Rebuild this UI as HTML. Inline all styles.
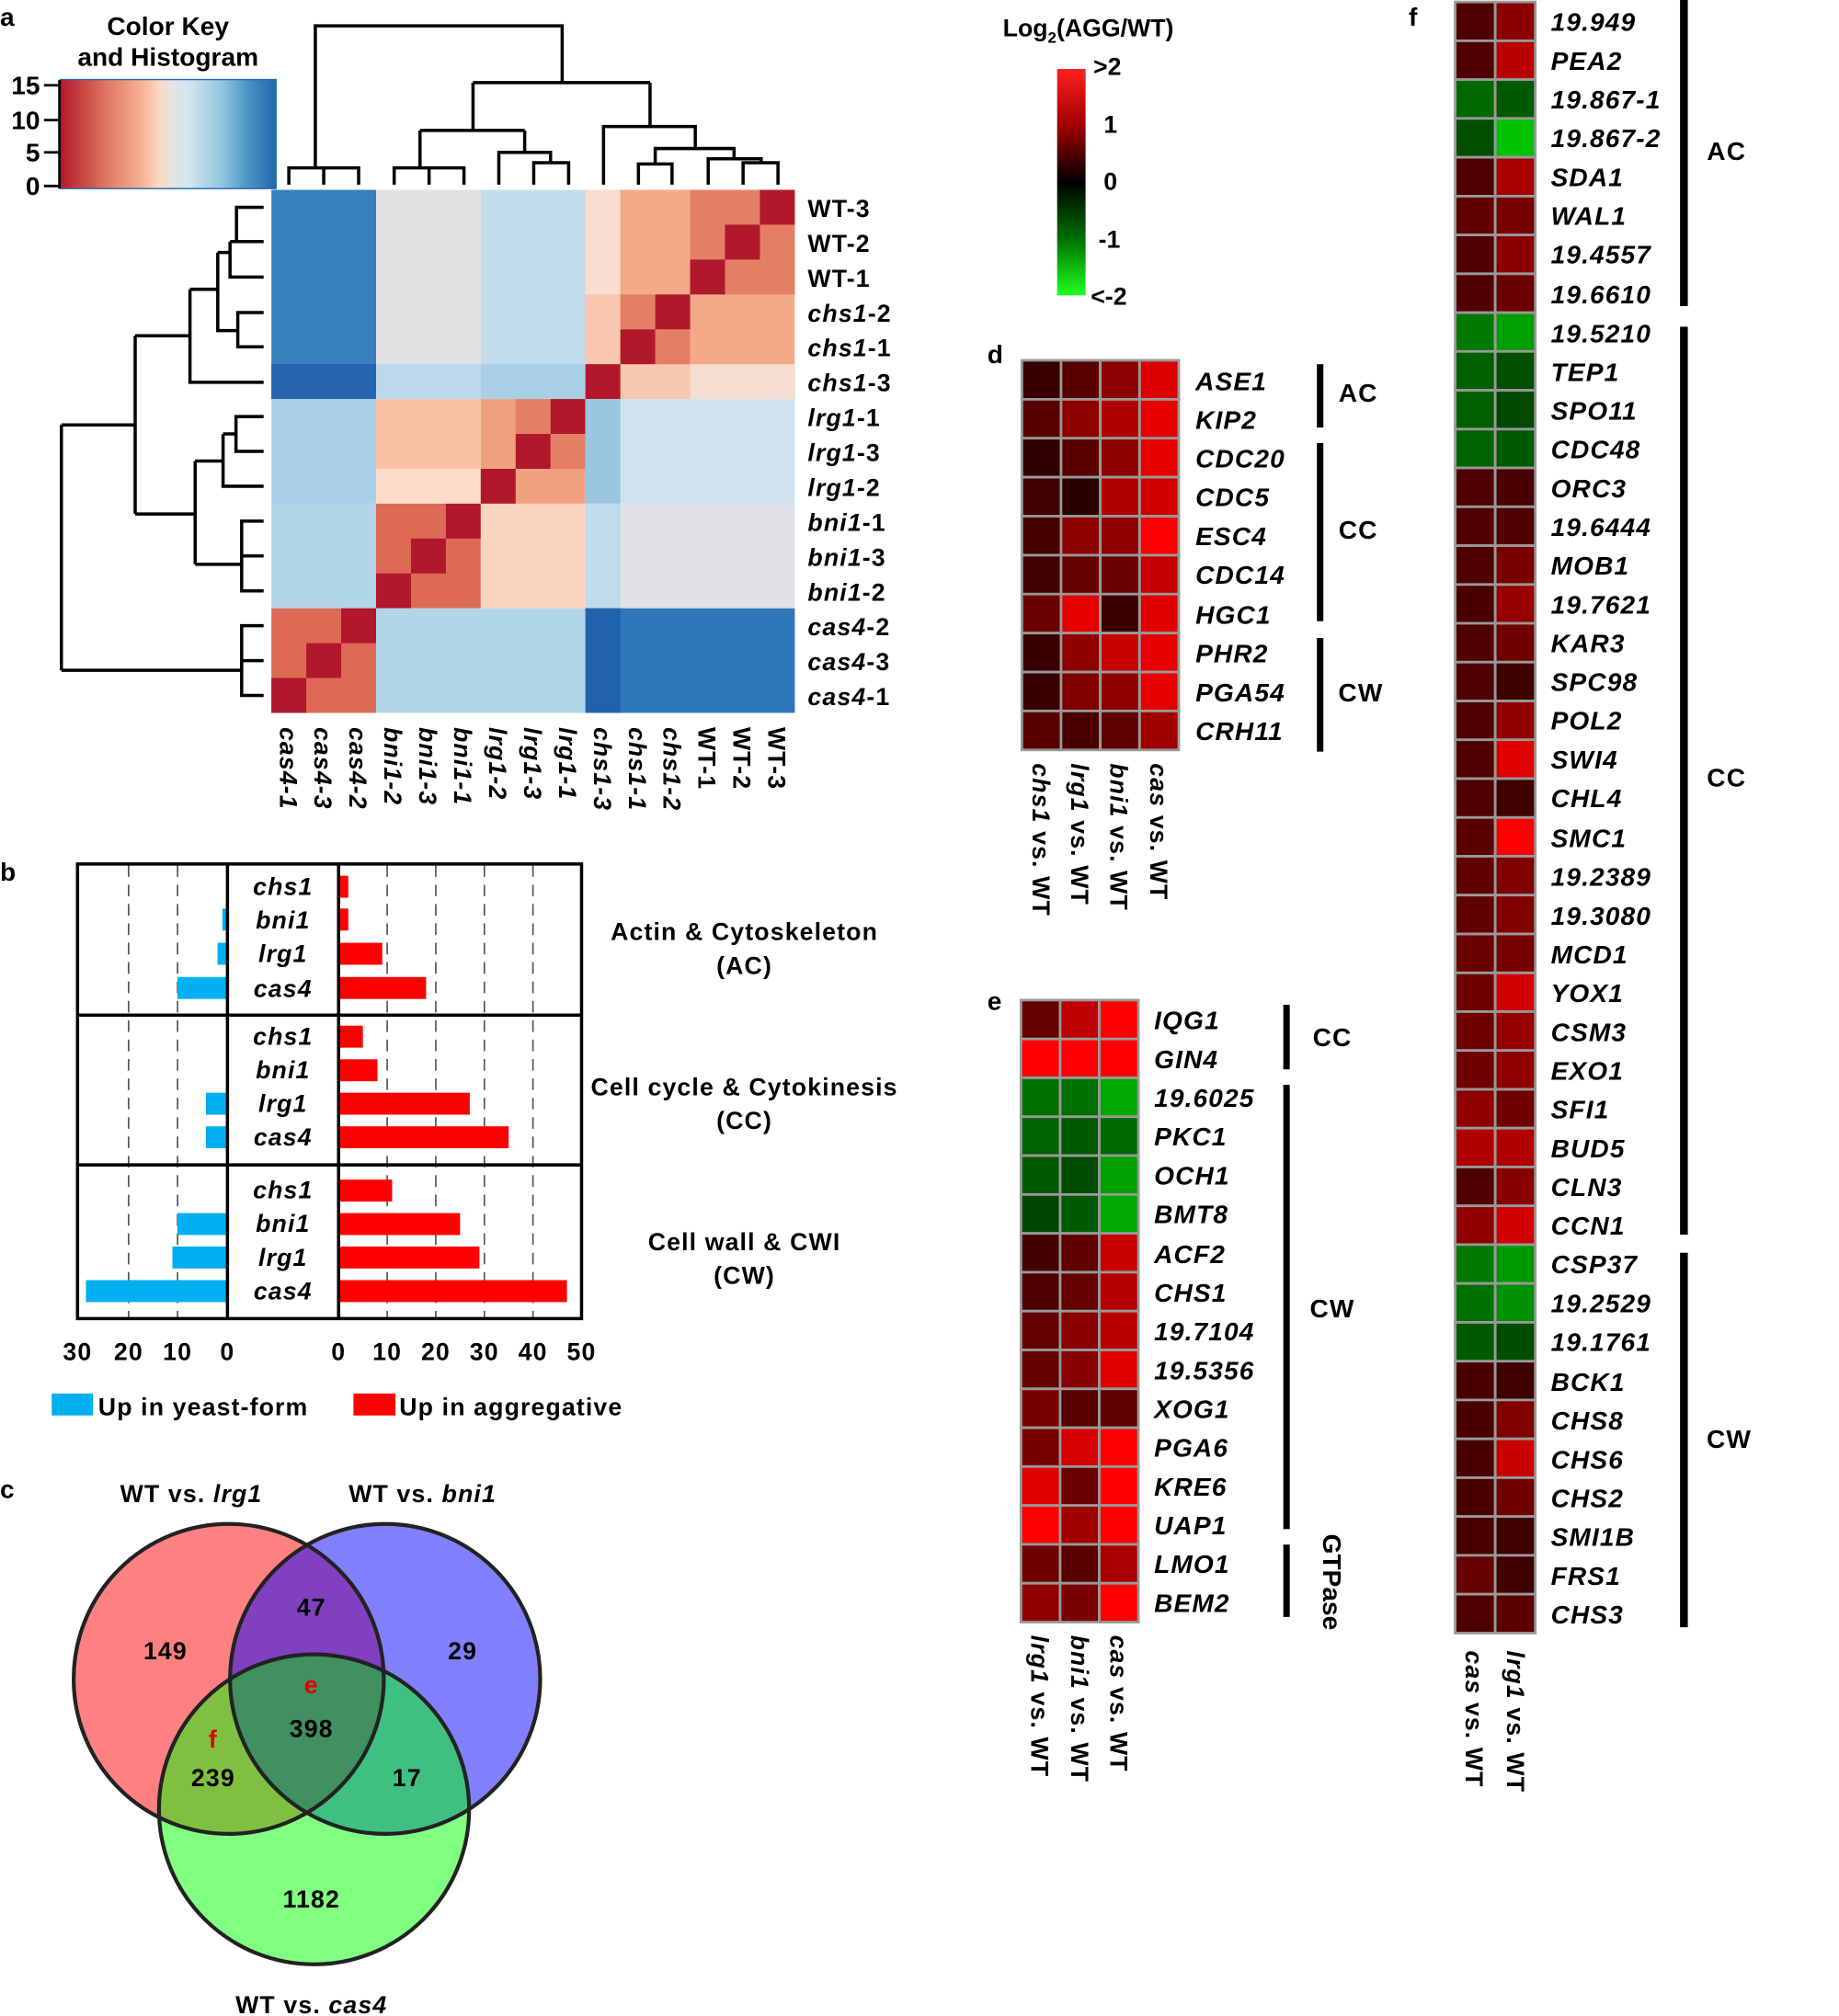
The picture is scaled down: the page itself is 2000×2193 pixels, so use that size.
<!DOCTYPE html>
<html><head><meta charset="utf-8"><style>
html,body{margin:0;padding:0;background:#fff}
svg{display:block}
text{font-family:"Liberation Sans",Arial,sans-serif;font-weight:bold;fill:#000}
.it{font-style:italic}
.w{letter-spacing:0.8px}
</style></head><body>
<svg width="2000" height="2193" viewBox="0 0 1423 1561" preserveAspectRatio="none" xmlns="http://www.w3.org/2000/svg">
<defs>
<linearGradient id="ck" x1="0" x2="1" y1="0" y2="0">
<stop offset="0" stop-color="#b2182b"/><stop offset="0.22" stop-color="#e07a62"/><stop offset="0.38" stop-color="#f6b394"/><stop offset="0.46" stop-color="#fcd9c4"/><stop offset="0.52" stop-color="#e6e3e2"/><stop offset="0.6" stop-color="#d1e5f0"/><stop offset="0.75" stop-color="#92c5de"/><stop offset="0.87" stop-color="#4a93c4"/><stop offset="1" stop-color="#2166ac"/>
</linearGradient>
<linearGradient id="lg" x1="0" x2="0" y1="0" y2="1">
<stop offset="0" stop-color="#ff2020"/><stop offset="0.25" stop-color="#a00000"/><stop offset="0.5" stop-color="#000"/><stop offset="0.75" stop-color="#007000"/><stop offset="1" stop-color="#20ff20"/>
</linearGradient>
<clipPath id="cR"><circle cx="177" cy="1300" r="120"/></clipPath>
<clipPath id="cB"><circle cx="298" cy="1300" r="120"/></clipPath>
</defs>

<!-- panel a heatmap blocks -->
<g>
<rect x="210" y="147" width="81" height="162" fill="#3580bd"/><rect x="210" y="282" width="81" height="27" fill="#2566ae"/>
<rect x="291" y="147" width="81" height="162" fill="#e4e1e2"/><rect x="291" y="282" width="81" height="27" fill="#bcd8ea"/>
<rect x="372" y="147" width="81" height="162" fill="#c3dceb"/><rect x="372" y="282" width="81" height="27" fill="#a9cfe4"/>
<rect x="453" y="147" width="162" height="162" fill="#f3aa88"/>
<rect x="453" y="147" width="27" height="81" fill="#f8ddd0"/><rect x="453" y="228" width="27" height="54" fill="#f9c8ae"/>
<rect x="480" y="282" width="54" height="27" fill="#f8c8ae"/><rect x="534" y="282" width="81" height="27" fill="#f5ddd0"/>
<rect x="534" y="147" width="81" height="81" fill="#e47f66"/><rect x="480" y="228" width="27" height="27" fill="#e47f66"/><rect x="507" y="255" width="27" height="27" fill="#e47f66"/>
<g fill="#b2182b"><rect x="588" y="147" width="27" height="27"/><rect x="561" y="174" width="27" height="27"/><rect x="534" y="201" width="27" height="27"/><rect x="507" y="228" width="27" height="27"/><rect x="480" y="255" width="27" height="27"/><rect x="453" y="282" width="27" height="27"/></g>
<rect x="210" y="309" width="81" height="81" fill="#a9d0e6"/>
<rect x="291" y="309" width="81" height="81" fill="#f8c3a5"/><rect x="291" y="363" width="81" height="27" fill="#fcdcc9"/>
<rect x="372" y="309" width="81" height="81" fill="#f0a07f"/><rect x="399" y="309" width="27" height="27" fill="#e47f66"/><rect x="426" y="336" width="27" height="27" fill="#e47f66"/>
<g fill="#b2182b"><rect x="426" y="309" width="27" height="27"/><rect x="399" y="336" width="27" height="27"/><rect x="372" y="363" width="27" height="27"/></g>
<rect x="453" y="309" width="162" height="81" fill="#cfe2ee"/><rect x="453" y="309" width="27" height="81" fill="#9ac6df"/>
<rect x="210" y="390" width="81" height="81" fill="#b3d5e8"/>
<rect x="291" y="390" width="81" height="81" fill="#dc6a55"/>
<g fill="#b2182b"><rect x="345" y="390" width="27" height="27"/><rect x="318" y="417" width="27" height="27"/><rect x="291" y="444" width="27" height="27"/></g>
<rect x="372" y="390" width="81" height="81" fill="#f9d5c0"/>
<rect x="453" y="390" width="162" height="81" fill="#e2e2e6"/><rect x="453" y="390" width="27" height="81" fill="#c0dbea"/>
<rect x="210" y="471" width="81" height="81" fill="#dc6a55"/>
<g fill="#b2182b"><rect x="264" y="471" width="27" height="27"/><rect x="237" y="498" width="27" height="27"/><rect x="210" y="525" width="27" height="27"/></g>
<rect x="291" y="471" width="162" height="81" fill="#b2d5e8"/>
<rect x="453" y="471" width="162" height="81" fill="#2f78b8"/><rect x="453" y="471" width="27" height="81" fill="#2262aa"/>
</g>

<!-- panel labels -->
<text x="0" y="20" font-size="20">a</text>
<text x="0" y="682" font-size="20">b</text>
<text x="0" y="1160" font-size="20">c</text>
<text x="764" y="281" font-size="20">d</text>
<text x="764" y="782" font-size="20">e</text>
<text x="1090" y="20" font-size="20">f</text>

<!-- color key -->
<text x="130" y="27" font-size="20" text-anchor="middle">Color Key</text>
<text x="130" y="51" font-size="20" text-anchor="middle">and Histogram</text>
<rect x="46.6" y="61.6" width="167" height="84.4" fill="url(#ck)" stroke="#2166ac" stroke-width="1"/>
<g stroke="#000" stroke-width="2"><line x1="46" y1="62" x2="46" y2="146"/><line x1="34" y1="66" x2="46" y2="66"/><line x1="34" y1="93" x2="46" y2="93"/><line x1="34" y1="118" x2="46" y2="118"/><line x1="34" y1="144" x2="46" y2="144"/></g>
<g font-size="20" text-anchor="end"><text x="31" y="73">15</text><text x="31" y="100">10</text><text x="31" y="125">5</text><text x="31" y="151">0</text></g>

<!-- dendrograms -->
<g stroke="#000" stroke-width="2.5" fill="none">
<path d="M223.5,143V130H277.5V143M250.5,130V143M244,130V20H435V64M366,64H503M366,64V101M325,101H406M325,101V130M406,101V118M305,143V130H359V143M332,130V143M386,143V118H426V126M413,143V126H440V143M503,64V98H467V143M467,98H538V115H507V127H494V143M507,127H520V143M538,115H568V123H548V143M568,123H589V126H575V143M589,126H602V143"/>
<path d="M47.5,329V519M47.5,329H104.6V260M104.6,329V398M104.6,260H147V224M147,260V296H204M147,224H168.5V195.5M168.5,224V256H184V242H204M184,256V268.5H204M168.5,195.5H178V187M178,195.5V214.5H204M178,187H183V160.5H204M183,187H204M104.6,398H151V357M151,398V437M151,357H172.6V336M172.6,357V376.5H204M172.6,336H182.6V322.5H204M182.6,336V349.5H204M151,437H187V403.5H204M187,437V457.5H204M187,430.5H204M47.5,519H187V484.5H204M187,519V538.5H204M187,511.5H204"/>
</g>

<!-- panel a labels -->
<g font-size="19" class="w">
<text x="625" y="168">WT-3</text><text x="625" y="195">WT-2</text><text x="625" y="222">WT-1</text>
<text x="625" y="249" class="it">chs1<tspan font-style="normal">-2</tspan></text>
<text x="625" y="276" class="it">chs1<tspan font-style="normal">-1</tspan></text>
<text x="625" y="303" class="it">chs1<tspan font-style="normal">-3</tspan></text>
<text x="625" y="330" class="it">lrg1<tspan font-style="normal">-1</tspan></text>
<text x="625" y="357" class="it">lrg1<tspan font-style="normal">-3</tspan></text>
<text x="625" y="384" class="it">lrg1<tspan font-style="normal">-2</tspan></text>
<text x="625" y="411" class="it">bni1<tspan font-style="normal">-1</tspan></text>
<text x="625" y="438" class="it">bni1<tspan font-style="normal">-3</tspan></text>
<text x="625" y="465" class="it">bni1<tspan font-style="normal">-2</tspan></text>
<text x="625" y="492" class="it">cas4<tspan font-style="normal">-2</tspan></text>
<text x="625" y="519" class="it">cas4<tspan font-style="normal">-3</tspan></text>
<text x="625" y="546" class="it">cas4<tspan font-style="normal">-1</tspan></text>
</g>
<g font-size="19" class="it w">
<text transform="translate(216.5,563) rotate(90)">cas4-1</text>
<text transform="translate(243.5,563) rotate(90)">cas4-3</text>
<text transform="translate(270.5,563) rotate(90)">cas4-2</text>
<text transform="translate(297.5,563) rotate(90)">bni1-2</text>
<text transform="translate(324.5,563) rotate(90)">bni1-3</text>
<text transform="translate(351.5,563) rotate(90)">bni1-1</text>
<text transform="translate(378.5,563) rotate(90)">lrg1-2</text>
<text transform="translate(405.5,563) rotate(90)">lrg1-3</text>
<text transform="translate(432.5,563) rotate(90)">lrg1-1</text>
<text transform="translate(459.5,563) rotate(90)">chs1-3</text>
<text transform="translate(486.5,563) rotate(90)">chs1-1</text>
<text transform="translate(513.5,563) rotate(90)">chs1-2</text>
<text transform="translate(540.5,563) rotate(90)" font-style="normal">WT-1</text>
<text transform="translate(567.5,563) rotate(90)" font-style="normal">WT-2</text>
<text transform="translate(594.5,563) rotate(90)" font-style="normal">WT-3</text>
</g>

<!-- panel b -->
<g stroke="#555" stroke-width="1.2" stroke-dasharray="9,6">
<line x1="99.5" y1="670" x2="99.5" y2="1020"/><line x1="137.4" y1="670" x2="137.4" y2="1020"/>
<line x1="299.6" y1="670" x2="299.6" y2="1020"/><line x1="337.2" y1="670" x2="337.2" y2="1020"/><line x1="374.8" y1="670" x2="374.8" y2="1020"/><line x1="412.4" y1="670" x2="412.4" y2="1020"/>
</g>
<g fill="#ff0000">
<rect x="262" y="678.1" width="7.5" height="17"/><rect x="262" y="703.5" width="7.5" height="17"/><rect x="262" y="730" width="33.8" height="17"/><rect x="262" y="756.5" width="67.7" height="17"/>
<rect x="262" y="794.2" width="18.8" height="17"/><rect x="262" y="820.2" width="30.1" height="17"/><rect x="262" y="846.1" width="101.5" height="17"/><rect x="262" y="872.1" width="131.6" height="17"/>
<rect x="262" y="913.4" width="41.4" height="17"/><rect x="262" y="939.3" width="94" height="17"/><rect x="262" y="965.2" width="109" height="17"/><rect x="262" y="991.2" width="176.7" height="17"/>
</g>
<g fill="#00b0f0">
<rect x="172.1" y="703.5" width="3.9" height="17"/><rect x="168.3" y="730" width="7.7" height="17"/><rect x="137.3" y="756.5" width="38.7" height="17"/>
<rect x="159.4" y="846.1" width="16.6" height="17"/><rect x="159.4" y="872.1" width="16.6" height="17"/>
<rect x="137.3" y="939.3" width="38.7" height="17"/><rect x="133.4" y="965.2" width="42.6" height="17"/><rect x="66.5" y="991.2" width="109.5" height="17"/>
</g>
<g stroke="#000" stroke-width="2.5" fill="none">
<rect x="60" y="669" width="390" height="352"/>
<line x1="60" y1="786" x2="450" y2="786"/><line x1="60" y1="902" x2="450" y2="902"/>
<line x1="176" y1="669" x2="176" y2="1021"/><line x1="262" y1="669" x2="262" y2="1021"/>
</g>
<g font-size="19" class="it w" text-anchor="middle">
<text x="219" y="693">chs1</text><text x="219" y="719">bni1</text><text x="219" y="745">lrg1</text><text x="219" y="772">cas4</text>
<text x="219" y="809">chs1</text><text x="219" y="835">bni1</text><text x="219" y="861">lrg1</text><text x="219" y="887">cas4</text>
<text x="219" y="928">chs1</text><text x="219" y="954">bni1</text><text x="219" y="980">lrg1</text><text x="219" y="1006">cas4</text>
</g>
<g font-size="19" text-anchor="middle" class="w">
<text x="60" y="1053">30</text><text x="99.5" y="1053">20</text><text x="137.4" y="1053">10</text><text x="176" y="1053">0</text>
<text x="262" y="1053">0</text><text x="299.6" y="1053">10</text><text x="337.2" y="1053">20</text><text x="374.8" y="1053">30</text><text x="412.4" y="1053">40</text><text x="450" y="1053">50</text>
<text x="576" y="728">Actin &amp; Cytoskeleton</text><text x="576" y="754">(AC)</text>
<text x="576" y="848">Cell cycle &amp; Cytokinesis</text><text x="576" y="874">(CC)</text>
<text x="576" y="968">Cell wall &amp; CWI</text><text x="576" y="994">(CW)</text>
</g>
<rect x="40" y="1079" width="32" height="17" fill="#00b0f0"/>
<text x="76" y="1096" font-size="19" class="w">Up in yeast-form</text>
<rect x="273.5" y="1079" width="32.5" height="17" fill="#ff0000"/>
<text x="309" y="1096" font-size="19" class="w">Up in aggregative</text>

<!-- Venn -->
<circle cx="177" cy="1300" r="120" fill="#ff8080"/>
<circle cx="298" cy="1300" r="120" fill="#8080ff"/>
<circle cx="243" cy="1401" r="120" fill="#80ff80"/>
<g clip-path="url(#cR)"><circle cx="298" cy="1300" r="120" fill="#8040c0"/><circle cx="243" cy="1401" r="120" fill="#80c040"/></g>
<g clip-path="url(#cB)"><circle cx="243" cy="1401" r="120" fill="#40c080"/><g clip-path="url(#cR)"><circle cx="243" cy="1401" r="120" fill="#409060"/></g></g>
<g fill="none" stroke="#222" stroke-width="3"><circle cx="177" cy="1300" r="120"/><circle cx="298" cy="1300" r="120"/><circle cx="243" cy="1401" r="120"/></g>
<g font-size="19" text-anchor="middle" class="w">
<text x="148" y="1163">WT vs. <tspan class="it">lrg1</tspan></text>
<text x="327" y="1163">WT vs. <tspan class="it">bni1</tspan></text>
<text x="241" y="1559">WT vs. <tspan class="it">cas4</tspan></text>
<text x="128" y="1285">149</text><text x="241" y="1251">47</text><text x="358" y="1285">29</text>
<text x="241" y="1311" style="fill:#e00000">e</text><text x="241" y="1345">398</text>
<text x="165" y="1353" style="fill:#e00000">f</text><text x="165" y="1383">239</text><text x="315" y="1383">17</text>
<text x="241" y="1477">1182</text>
</g>

<!-- log scale -->
<text x="776" y="28" font-size="19">Log<tspan font-size="12" dy="5">2</tspan><tspan dy="-5">(AGG/WT)</tspan></text>
<rect x="818" y="53.4" width="22" height="175.3" fill="url(#lg)"/>
<g font-size="19"><text x="846" y="58">&gt;2</text><text x="854" y="103">1</text><text x="854" y="147">0</text><text x="850" y="192">-1</text><text x="844" y="236">&lt;-2</text></g>

<!-- panel d heatmap -->
<g stroke="#999" stroke-width="2">
<rect x="790.7" y="279" width="30.35" height="30.2" fill="#3a0000"/><rect x="821" y="279" width="30.35" height="30.2" fill="#5a0000"/><rect x="851.4" y="279" width="30.35" height="30.2" fill="#8b0000"/><rect x="881.8" y="279" width="30.35" height="30.2" fill="#dd0000"/>
<rect x="790.7" y="309.2" width="30.35" height="30.2" fill="#5a0000"/><rect x="821" y="309.2" width="30.35" height="30.2" fill="#8f0000"/><rect x="851.4" y="309.2" width="30.35" height="30.2" fill="#b00000"/><rect x="881.8" y="309.2" width="30.35" height="30.2" fill="#e80000"/>
<rect x="790.7" y="339.3" width="30.35" height="30.2" fill="#330000"/><rect x="821" y="339.3" width="30.35" height="30.2" fill="#5a0000"/><rect x="851.4" y="339.3" width="30.35" height="30.2" fill="#8c0000"/><rect x="881.8" y="339.3" width="30.35" height="30.2" fill="#e80000"/>
<rect x="790.7" y="369.5" width="30.35" height="30.2" fill="#400000"/><rect x="821" y="369.5" width="30.35" height="30.2" fill="#2a0000"/><rect x="851.4" y="369.5" width="30.35" height="30.2" fill="#b00000"/><rect x="881.8" y="369.5" width="30.35" height="30.2" fill="#d00000"/>
<rect x="790.7" y="399.7" width="30.35" height="30.2" fill="#450000"/><rect x="821" y="399.7" width="30.35" height="30.2" fill="#8f0000"/><rect x="851.4" y="399.7" width="30.35" height="30.2" fill="#900000"/><rect x="881.8" y="399.7" width="30.35" height="30.2" fill="#ff0000"/>
<rect x="790.7" y="429.9" width="30.35" height="30.2" fill="#400000"/><rect x="821" y="429.9" width="30.35" height="30.2" fill="#650000"/><rect x="851.4" y="429.9" width="30.35" height="30.2" fill="#6a0000"/><rect x="881.8" y="429.9" width="30.35" height="30.2" fill="#c40000"/>
<rect x="790.7" y="460" width="30.35" height="30.2" fill="#6a0000"/><rect x="821" y="460" width="30.35" height="30.2" fill="#e50000"/><rect x="851.4" y="460" width="30.35" height="30.2" fill="#3a0000"/><rect x="881.8" y="460" width="30.35" height="30.2" fill="#e00000"/>
<rect x="790.7" y="490.2" width="30.35" height="30.2" fill="#3a0000"/><rect x="821" y="490.2" width="30.35" height="30.2" fill="#8f0000"/><rect x="851.4" y="490.2" width="30.35" height="30.2" fill="#c80000"/><rect x="881.8" y="490.2" width="30.35" height="30.2" fill="#e60000"/>
<rect x="790.7" y="520.4" width="30.35" height="30.2" fill="#3a0000"/><rect x="821" y="520.4" width="30.35" height="30.2" fill="#800000"/><rect x="851.4" y="520.4" width="30.35" height="30.2" fill="#900000"/><rect x="881.8" y="520.4" width="30.35" height="30.2" fill="#e60000"/>
<rect x="790.7" y="550.5" width="30.35" height="30.2" fill="#5a0000"/><rect x="821" y="550.5" width="30.35" height="30.2" fill="#4a0000"/><rect x="851.4" y="550.5" width="30.35" height="30.2" fill="#600000"/><rect x="881.8" y="550.5" width="30.35" height="30.2" fill="#a00000"/>
</g>
<g font-size="20" class="it w">
<text x="925" y="302">ASE1</text><text x="925" y="332">KIP2</text><text x="925" y="362">CDC20</text><text x="925" y="392">CDC5</text><text x="925" y="422">ESC4</text><text x="925" y="452">CDC14</text><text x="925" y="483">HGC1</text><text x="925" y="513">PHR2</text><text x="925" y="543">PGA54</text><text x="925" y="573">CRH11</text>
</g>
<g fill="#000"><rect x="1019" y="282" width="5" height="49"/><rect x="1019" y="343" width="5" height="138"/><rect x="1019" y="494" width="5" height="88"/></g>
<g font-size="20" text-anchor="middle" class="w"><text x="1051" y="311">AC</text><text x="1051" y="417">CC</text><text x="1053" y="543">CW</text></g>
<g font-size="19" class="it w">
<text transform="translate(799,591) rotate(90)">chs1 <tspan font-style="normal">vs. WT</tspan></text>
<text transform="translate(829,591) rotate(90)">lrg1 <tspan font-style="normal">vs. WT</tspan></text>
<text transform="translate(859,591) rotate(90)">bni1 <tspan font-style="normal">vs. WT</tspan></text>
<text transform="translate(890,591) rotate(90)">cas <tspan font-style="normal">vs. WT</tspan></text>
</g>

<!-- panel e heatmap -->
<g stroke="#999" stroke-width="2">
<rect x="790" y="774.4" width="30.3" height="30.1" fill="#660000"/><rect x="820.3" y="774.4" width="30.3" height="30.1" fill="#c00000"/><rect x="850.6" y="774.4" width="30.3" height="30.1" fill="#ff0000"/>
<rect x="790" y="804.5" width="30.3" height="30.1" fill="#ff0000"/><rect x="820.3" y="804.5" width="30.3" height="30.1" fill="#ff0000"/><rect x="850.6" y="804.5" width="30.3" height="30.1" fill="#ff0000"/>
<rect x="790" y="834.6" width="30.3" height="30.1" fill="#007000"/><rect x="820.3" y="834.6" width="30.3" height="30.1" fill="#007000"/><rect x="850.6" y="834.6" width="30.3" height="30.1" fill="#00a800"/>
<rect x="790" y="864.7" width="30.3" height="30.1" fill="#006400"/><rect x="820.3" y="864.7" width="30.3" height="30.1" fill="#005a00"/><rect x="850.6" y="864.7" width="30.3" height="30.1" fill="#006a00"/>
<rect x="790" y="894.8" width="30.3" height="30.1" fill="#005a00"/><rect x="820.3" y="894.8" width="30.3" height="30.1" fill="#004c00"/><rect x="850.6" y="894.8" width="30.3" height="30.1" fill="#00a000"/>
<rect x="790" y="924.9" width="30.3" height="30.1" fill="#004600"/><rect x="820.3" y="924.9" width="30.3" height="30.1" fill="#005a00"/><rect x="850.6" y="924.9" width="30.3" height="30.1" fill="#00a800"/>
<rect x="790" y="955" width="30.3" height="30.1" fill="#440000"/><rect x="820.3" y="955" width="30.3" height="30.1" fill="#600000"/><rect x="850.6" y="955" width="30.3" height="30.1" fill="#c80000"/>
<rect x="790" y="985.1" width="30.3" height="30.1" fill="#4e0000"/><rect x="820.3" y="985.1" width="30.3" height="30.1" fill="#660000"/><rect x="850.6" y="985.1" width="30.3" height="30.1" fill="#b40000"/>
<rect x="790" y="1015.2" width="30.3" height="30.1" fill="#660000"/><rect x="820.3" y="1015.2" width="30.3" height="30.1" fill="#8a0000"/><rect x="850.6" y="1015.2" width="30.3" height="30.1" fill="#b80000"/>
<rect x="790" y="1045.3" width="30.3" height="30.1" fill="#660000"/><rect x="820.3" y="1045.3" width="30.3" height="30.1" fill="#880000"/><rect x="850.6" y="1045.3" width="30.3" height="30.1" fill="#e00000"/>
<rect x="790" y="1075.4" width="30.3" height="30.1" fill="#7a0000"/><rect x="820.3" y="1075.4" width="30.3" height="30.1" fill="#5a0000"/><rect x="850.6" y="1075.4" width="30.3" height="30.1" fill="#600000"/>
<rect x="790" y="1105.5" width="30.3" height="30.1" fill="#7a0000"/><rect x="820.3" y="1105.5" width="30.3" height="30.1" fill="#d80000"/><rect x="850.6" y="1105.5" width="30.3" height="30.1" fill="#ff0000"/>
<rect x="790" y="1135.6" width="30.3" height="30.1" fill="#e00000"/><rect x="820.3" y="1135.6" width="30.3" height="30.1" fill="#6a0000"/><rect x="850.6" y="1135.6" width="30.3" height="30.1" fill="#ff0000"/>
<rect x="790" y="1165.7" width="30.3" height="30.1" fill="#ff0000"/><rect x="820.3" y="1165.7" width="30.3" height="30.1" fill="#a00000"/><rect x="850.6" y="1165.7" width="30.3" height="30.1" fill="#ff0000"/>
<rect x="790" y="1195.8" width="30.3" height="30.1" fill="#700000"/><rect x="820.3" y="1195.8" width="30.3" height="30.1" fill="#5a0000"/><rect x="850.6" y="1195.8" width="30.3" height="30.1" fill="#a80000"/>
<rect x="790" y="1225.9" width="30.3" height="30.1" fill="#900000"/><rect x="820.3" y="1225.9" width="30.3" height="30.1" fill="#780000"/><rect x="850.6" y="1225.9" width="30.3" height="30.1" fill="#ff0000"/>
</g>
<g font-size="20" class="it w">
<text x="893" y="797">IQG1</text><text x="893" y="827">GIN4</text><text x="893" y="857">19.6025</text><text x="893" y="887">PKC1</text><text x="893" y="917">OCH1</text><text x="893" y="947">BMT8</text><text x="893" y="978">ACF2</text><text x="893" y="1008">CHS1</text><text x="893" y="1038">19.7104</text><text x="893" y="1068">19.5356</text><text x="893" y="1098">XOG1</text><text x="893" y="1128">PGA6</text><text x="893" y="1158">KRE6</text><text x="893" y="1188">UAP1</text><text x="893" y="1218">LMO1</text><text x="893" y="1248">BEM2</text>
</g>
<g fill="#000"><rect x="993" y="778" width="5" height="50"/><rect x="993" y="840" width="5" height="344"/><rect x="993" y="1196" width="5" height="56"/></g>
<g font-size="20" text-anchor="middle" class="w"><text x="1031" y="810">CC</text><text x="1031" y="1020">CW</text></g>
<text transform="translate(1024,1225) rotate(90)" font-size="20" text-anchor="middle">GTPase</text>
<g font-size="19" class="it w">
<text transform="translate(798,1266) rotate(90)">lrg1 <tspan font-style="normal">vs. WT</tspan></text>
<text transform="translate(829,1266) rotate(90)">bni1 <tspan font-style="normal">vs. WT</tspan></text>
<text transform="translate(859,1266) rotate(90)">cas <tspan font-style="normal">vs. WT</tspan></text>
</g>

<!-- panel f heatmap -->
<g stroke="#999" stroke-width="2">
<rect x="1126" y="1.5" width="31" height="30.1" fill="#500000"/><rect x="1157" y="1.5" width="31" height="30.1" fill="#8a0000"/>
<rect x="1126" y="31.6" width="31" height="30.1" fill="#500000"/><rect x="1157" y="31.6" width="31" height="30.1" fill="#b80000"/>
<rect x="1126" y="61.6" width="31" height="30.1" fill="#006a00"/><rect x="1157" y="61.6" width="31" height="30.1" fill="#005a00"/>
<rect x="1126" y="91.7" width="31" height="30.1" fill="#005000"/><rect x="1157" y="91.7" width="31" height="30.1" fill="#00c000"/>
<rect x="1126" y="121.8" width="31" height="30.1" fill="#4e0000"/><rect x="1157" y="121.8" width="31" height="30.1" fill="#a80000"/>
<rect x="1126" y="151.9" width="31" height="30.1" fill="#600000"/><rect x="1157" y="151.9" width="31" height="30.1" fill="#780000"/>
<rect x="1126" y="181.9" width="31" height="30.1" fill="#500000"/><rect x="1157" y="181.9" width="31" height="30.1" fill="#8a0000"/>
<rect x="1126" y="212" width="31" height="30.1" fill="#500000"/><rect x="1157" y="212" width="31" height="30.1" fill="#6a0000"/>
<rect x="1126" y="242.1" width="31" height="30.1" fill="#007a00"/><rect x="1157" y="242.1" width="31" height="30.1" fill="#00a000"/>
<rect x="1126" y="272.1" width="31" height="30.1" fill="#006000"/><rect x="1157" y="272.1" width="31" height="30.1" fill="#005000"/>
<rect x="1126" y="302.2" width="31" height="30.1" fill="#006000"/><rect x="1157" y="302.2" width="31" height="30.1" fill="#004a00"/>
<rect x="1126" y="332.3" width="31" height="30.1" fill="#006400"/><rect x="1157" y="332.3" width="31" height="30.1" fill="#005a00"/>
<rect x="1126" y="362.3" width="31" height="30.1" fill="#500000"/><rect x="1157" y="362.3" width="31" height="30.1" fill="#4a0000"/>
<rect x="1126" y="392.4" width="31" height="30.1" fill="#500000"/><rect x="1157" y="392.4" width="31" height="30.1" fill="#500000"/>
<rect x="1126" y="422.5" width="31" height="30.1" fill="#4e0000"/><rect x="1157" y="422.5" width="31" height="30.1" fill="#7a0000"/>
<rect x="1126" y="452.6" width="31" height="30.1" fill="#4a0000"/><rect x="1157" y="452.6" width="31" height="30.1" fill="#960000"/>
<rect x="1126" y="482.6" width="31" height="30.1" fill="#500000"/><rect x="1157" y="482.6" width="31" height="30.1" fill="#700000"/>
<rect x="1126" y="512.7" width="31" height="30.1" fill="#500000"/><rect x="1157" y="512.7" width="31" height="30.1" fill="#3e0000"/>
<rect x="1126" y="542.8" width="31" height="30.1" fill="#500000"/><rect x="1157" y="542.8" width="31" height="30.1" fill="#900000"/>
<rect x="1126" y="572.8" width="31" height="30.1" fill="#500000"/><rect x="1157" y="572.8" width="31" height="30.1" fill="#e00000"/>
<rect x="1126" y="602.9" width="31" height="30.1" fill="#500000"/><rect x="1157" y="602.9" width="31" height="30.1" fill="#400000"/>
<rect x="1126" y="633" width="31" height="30.1" fill="#5a0000"/><rect x="1157" y="633" width="31" height="30.1" fill="#ff0000"/>
<rect x="1126" y="663" width="31" height="30.1" fill="#600000"/><rect x="1157" y="663" width="31" height="30.1" fill="#800000"/>
<rect x="1126" y="693.1" width="31" height="30.1" fill="#600000"/><rect x="1157" y="693.1" width="31" height="30.1" fill="#800000"/>
<rect x="1126" y="723.2" width="31" height="30.1" fill="#6a0000"/><rect x="1157" y="723.2" width="31" height="30.1" fill="#780000"/>
<rect x="1126" y="753.3" width="31" height="30.1" fill="#700000"/><rect x="1157" y="753.3" width="31" height="30.1" fill="#d00000"/>
<rect x="1126" y="783.3" width="31" height="30.1" fill="#700000"/><rect x="1157" y="783.3" width="31" height="30.1" fill="#960000"/>
<rect x="1126" y="813.4" width="31" height="30.1" fill="#700000"/><rect x="1157" y="813.4" width="31" height="30.1" fill="#900000"/>
<rect x="1126" y="843.5" width="31" height="30.1" fill="#900000"/><rect x="1157" y="843.5" width="31" height="30.1" fill="#700000"/>
<rect x="1126" y="873.5" width="31" height="30.1" fill="#b00000"/><rect x="1157" y="873.5" width="31" height="30.1" fill="#b00000"/>
<rect x="1126" y="903.6" width="31" height="30.1" fill="#500000"/><rect x="1157" y="903.6" width="31" height="30.1" fill="#880000"/>
<rect x="1126" y="933.7" width="31" height="30.1" fill="#900000"/><rect x="1157" y="933.7" width="31" height="30.1" fill="#d00000"/>
<rect x="1126" y="963.7" width="31" height="30.1" fill="#007a00"/><rect x="1157" y="963.7" width="31" height="30.1" fill="#009800"/>
<rect x="1126" y="993.8" width="31" height="30.1" fill="#007000"/><rect x="1157" y="993.8" width="31" height="30.1" fill="#009000"/>
<rect x="1126" y="1023.9" width="31" height="30.1" fill="#005a00"/><rect x="1157" y="1023.9" width="31" height="30.1" fill="#004e00"/>
<rect x="1126" y="1054" width="31" height="30.1" fill="#4a0000"/><rect x="1157" y="1054" width="31" height="30.1" fill="#400000"/>
<rect x="1126" y="1084" width="31" height="30.1" fill="#4a0000"/><rect x="1157" y="1084" width="31" height="30.1" fill="#800000"/>
<rect x="1126" y="1114.1" width="31" height="30.1" fill="#4a0000"/><rect x="1157" y="1114.1" width="31" height="30.1" fill="#c80000"/>
<rect x="1126" y="1144.2" width="31" height="30.1" fill="#4a0000"/><rect x="1157" y="1144.2" width="31" height="30.1" fill="#700000"/>
<rect x="1126" y="1174.2" width="31" height="30.1" fill="#4a0000"/><rect x="1157" y="1174.2" width="31" height="30.1" fill="#400000"/>
<rect x="1126" y="1204.3" width="31" height="30.1" fill="#660000"/><rect x="1157" y="1204.3" width="31" height="30.1" fill="#400000"/>
<rect x="1126" y="1234.4" width="31" height="30.1" fill="#4e0000"/><rect x="1157" y="1234.4" width="31" height="30.1" fill="#5a0000"/>
</g>
<g font-size="20" class="it w">
<text x="1200" y="24">19.949</text><text x="1200" y="54">PEA2</text><text x="1200" y="84">19.867-1</text><text x="1200" y="114">19.867-2</text><text x="1200" y="144">SDA1</text><text x="1200" y="174">WAL1</text><text x="1200" y="204">19.4557</text><text x="1200" y="235">19.6610</text>
<text x="1200" y="265">19.5210</text><text x="1200" y="295">TEP1</text><text x="1200" y="325">SPO11</text><text x="1200" y="355">CDC48</text><text x="1200" y="385">ORC3</text><text x="1200" y="415">19.6444</text><text x="1200" y="445">MOB1</text><text x="1200" y="475">19.7621</text><text x="1200" y="505">KAR3</text><text x="1200" y="535">SPC98</text><text x="1200" y="565">POL2</text><text x="1200" y="595">SWI4</text><text x="1200" y="625">CHL4</text><text x="1200" y="656">SMC1</text><text x="1200" y="686">19.2389</text><text x="1200" y="716">19.3080</text><text x="1200" y="746">MCD1</text><text x="1200" y="776">YOX1</text><text x="1200" y="806">CSM3</text><text x="1200" y="836">EXO1</text><text x="1200" y="866">SFI1</text><text x="1200" y="896">BUD5</text><text x="1200" y="926">CLN3</text><text x="1200" y="956">CCN1</text>
<text x="1200" y="986">CSP37</text><text x="1200" y="1016">19.2529</text><text x="1200" y="1046">19.1761</text><text x="1200" y="1077">BCK1</text><text x="1200" y="1107">CHS8</text><text x="1200" y="1137">CHS6</text><text x="1200" y="1167">CHS2</text><text x="1200" y="1197">SMI1B</text><text x="1200" y="1227">FRS1</text><text x="1200" y="1257">CHS3</text>
</g>
<g fill="#000"><rect x="1300" y="0" width="6" height="237"/><rect x="1300" y="253" width="6" height="703"/><rect x="1300" y="970" width="6" height="290"/></g>
<g font-size="20" text-anchor="middle" class="w"><text x="1336" y="124">AC</text><text x="1336" y="609">CC</text><text x="1338" y="1121">CW</text></g>
<g font-size="19" class="it w">
<text transform="translate(1134,1278) rotate(90)">cas <tspan font-style="normal">vs. WT</tspan></text>
<text transform="translate(1166,1278) rotate(90)">lrg1 <tspan font-style="normal">vs. WT</tspan></text>
</g>
</svg>
</body></html>
